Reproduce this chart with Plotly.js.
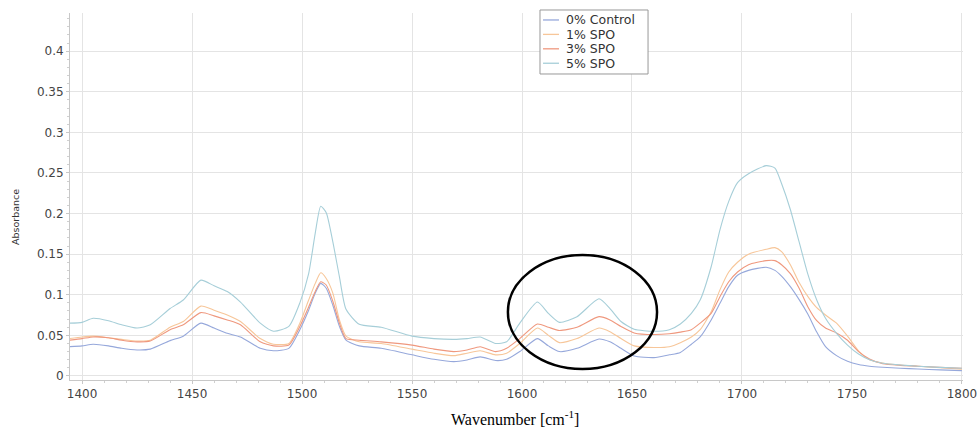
<!DOCTYPE html>
<html>
<head>
<meta charset="utf-8">
<script src="https://cdn.plot.ly/plotly-3.0.1.min.js"></script>
<style>html,body{margin:0;padding:0;background:#fff;}#chart{width:979px;height:432px;}</style>
</head>
<body>
<div id="chart"></div>
<script>
const wavenumber = [1394,1400,1405,1412,1418,1425,1431,1440,1446,1454,1460,1466,1472,1481,1487,1494,1499,1503,1506,1508.5,1511,1514,1517,1520,1526,1536,1550,1560,1569,1575,1581,1588,1593,1599,1607,1612,1617,1625,1635,1640,1645,1651,1660,1667,1672,1677,1681,1686,1690,1694,1698,1703,1711,1715,1718,1722,1726,1730,1734,1738,1743,1748,1753,1758,1764,1772,1780,1790,1800];

const control0 = [0.036,0.037,0.039,0.037,0.034,0.032,0.033,0.0435,0.049,0.065,0.059,0.0525,0.048,0.034,0.031,0.034,0.057,0.081,0.102,0.114,0.108,0.087,0.061,0.044,0.037,0.034,0.026,0.0205,0.0176,0.0197,0.0235,0.019,0.0205,0.030,0.046,0.037,0.030,0.034,0.0455,0.042,0.034,0.0246,0.0226,0.026,0.029,0.039,0.048,0.069,0.0895,0.11,0.124,0.130,0.1338,0.130,0.123,0.110,0.094,0.076,0.054,0.036,0.025,0.018,0.014,0.012,0.0107,0.0095,0.0085,0.0075,0.0065];

const spo1 = [0.046,0.048,0.049,0.047,0.045,0.043,0.044,0.060,0.067,0.086,0.081,0.075,0.067,0.046,0.039,0.040,0.065,0.0935,0.114,0.127,0.12,0.102,0.069,0.049,0.042,0.040,0.033,0.028,0.025,0.028,0.031,0.026,0.028,0.040,0.059,0.050,0.041,0.046,0.059,0.0545,0.046,0.037,0.035,0.036,0.041,0.048,0.057,0.079,0.106,0.128,0.140,0.150,0.156,0.158,0.153,0.137,0.115,0.0976,0.084,0.075,0.065,0.049,0.031,0.020,0.016,0.0135,0.012,0.010,0.0082];

const spo3 = [0.044,0.046,0.048,0.047,0.044,0.042,0.043,0.057,0.063,0.078,0.074,0.069,0.063,0.042,0.037,0.038,0.061,0.085,0.104,0.116,0.112,0.092,0.065,0.046,0.044,0.042,0.038,0.033,0.030,0.032,0.036,0.030,0.034,0.046,0.064,0.060,0.056,0.060,0.073,0.069,0.061,0.053,0.051,0.052,0.054,0.057,0.065,0.077,0.0976,0.116,0.128,0.137,0.142,0.142,0.137,0.126,0.108,0.085,0.068,0.059,0.053,0.044,0.030,0.021,0.015,0.013,0.012,0.0105,0.0095];

const spo5 = [0.065,0.066,0.071,0.068,0.063,0.059,0.063,0.083,0.0935,0.118,0.111,0.104,0.091,0.065,0.055,0.061,0.09,0.126,0.176,0.209,0.201,0.165,0.122,0.082,0.0636,0.060,0.049,0.046,0.045,0.046,0.048,0.040,0.042,0.065,0.091,0.077,0.066,0.073,0.095,0.083,0.067,0.0575,0.055,0.057,0.064,0.077,0.0935,0.1345,0.18,0.215,0.238,0.249,0.259,0.256,0.237,0.205,0.165,0.125,0.0935,0.071,0.0525,0.038,0.027,0.020,0.0156,0.0135,0.012,0.0105,0.0095];

const seriesNames = ['0% Control','1% SPO','3% SPO','5% SPO'];
const seriesValues = [control0, spo1, spo3, spo5];
const seriesColors = ['#96a8db','#f7c699','#ef987e','#a6ced8'];

const traces = seriesValues.map((v,i)=>({
  x: wavenumber, y: v, name: seriesNames[i], type: 'scatter', mode: 'lines',
  line: {color: seriesColors[i], width: 1.1, shape: 'spline', smoothing: 0.6}
}));

const sansFont = 'DejaVu Sans, Verdana, sans-serif';
const tickFont = {family: sansFont, size: 12, color: '#444'};

// custom compact legend (paper coordinates)
const legBox = {x0: 0.5263, x1: 0.6473, y0: 0.8338, y1: 1.0082};
const legTop = 0.981, legStep = 0.0393;
const legShapes = [{type: 'rect', xref: 'paper', yref: 'paper', x0: legBox.x0, x1: legBox.x1, y0: legBox.y0, y1: legBox.y1,
  fillcolor: '#fff', line: {color: '#999', width: 1}, layer: 'above'}];
const legAnn = [];
seriesNames.forEach((n,i)=>{
  const yy = legTop - i*legStep;
  legShapes.push({type: 'line', xref: 'paper', yref: 'paper', x0: 0.5297, x1: 0.5476, y0: yy, y1: yy,
    line: {color: seriesColors[i], width: 1.3}, layer: 'above'});
  legAnn.push({text: n, xref: 'paper', yref: 'paper', x: 0.5532, y: yy, xanchor: 'left', yanchor: 'middle',
    showarrow: false, font: {family: sansFont, size: 12.5, color: '#333'}});
});

const layout = {
  width: 979, height: 432,
  margin: {l: 70, r: 16, t: 13, b: 52},
  paper_bgcolor: '#fff', plot_bgcolor: '#fff',
  showlegend: false,
  xaxis: {range: [1394.5, 1800.5], tick0: 1400, dtick: 50, showgrid: true, gridcolor: '#e4e4e4',
    zeroline: false, showline: true, linecolor: '#c8c8c8', ticks: 'outside', ticklen: 3, tickcolor: '#c8c8c8',
    minor: {dtick: 10, ticks: 'outside', ticklen: 2, tickcolor: '#d0d0d0', showgrid: false},
    tickfont: tickFont},
  yaxis: {range: [-0.005, 0.447], tick0: 0, dtick: 0.05, showgrid: true, gridcolor: '#e4e4e4',
    zeroline: false, showline: true, linecolor: '#c8c8c8', ticks: 'outside', ticklen: 3, tickcolor: '#c8c8c8',
    minor: {dtick: 0.01, ticks: 'outside', ticklen: 2, tickcolor: '#d0d0d0', showgrid: false},
    tickfont: tickFont},
  annotations: [
    {text: 'Absorbance', xref: 'paper', yref: 'paper', x: -0.0616, y: 0.444, textangle: -90,
     showarrow: false, xanchor: 'center', yanchor: 'middle',
     font: {family: sansFont, size: 9.5, color: '#333'}},
    {text: 'Wavenumber [cm<sup>-1</sup>]', xref: 'paper', yref: 'paper', x: 0.498, y: -0.1035,
     showarrow: false, xanchor: 'center', yanchor: 'middle',
     font: {family: 'Liberation Serif, Times New Roman, serif', size: 16, color: '#000'}}
  ].concat(legAnn),
  shapes: [
    {type: 'circle', xref: 'x', yref: 'y', x0: 1593.6, x1: 1661.4, y0: 0.0086, y1: 0.149,
     line: {color: '#000', width: 2.5}}
  ].concat(legShapes)
};

Plotly.newPlot('chart', traces, layout, {displayModeBar: false, staticPlot: true});
</script>
</body>
</html>
